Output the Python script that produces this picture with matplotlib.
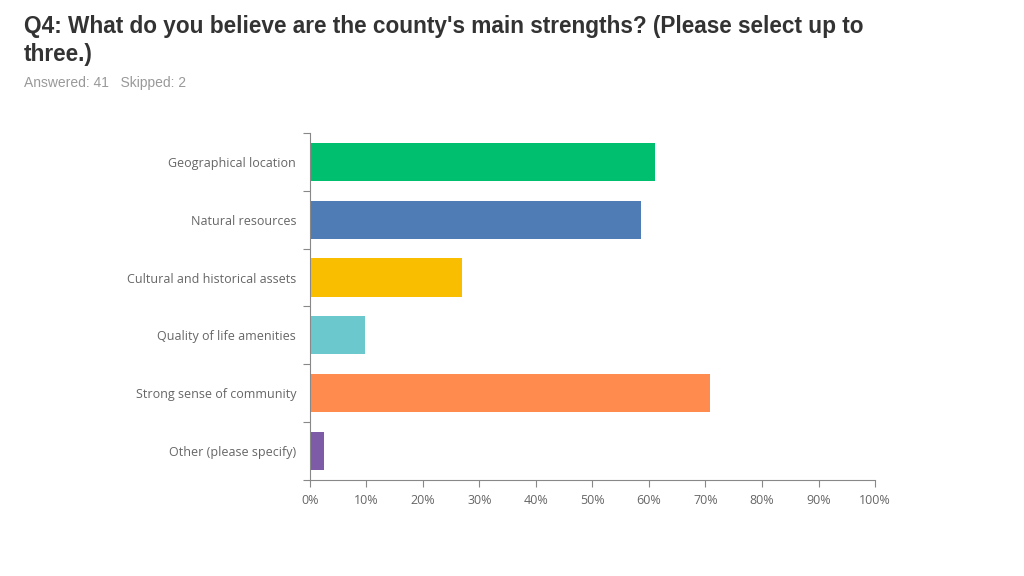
import matplotlib
from matplotlib import pyplot as plt
from matplotlib.ticker import PercentFormatter
import numpy as np
plt.switch_backend('agg')

categories = ['Geographical location', 'Natural resources', 'Cultural and historical assets',
              'Quality of life amenities', 'Strong sense of community', 'Other (please specify)']
values = [60.98, 58.54, 26.83, 9.76, 70.73, 2.44]
colors = ['#00BF6F', '#507CB6', '#F9BE00', '#6BC8CD', '#FF8B4F', '#7D5BA6']
xticks = [0, 10, 20, 30, 40, 50, 60, 70, 80, 90, 100]

fig = plt.figure(figsize=(10.24, 5.76), dpi=100)
ax = fig.add_axes([0.3027, 0.1667, 0.5518, 0.6024])

ypos = np.arange(len(categories))
ax.barh(ypos, values, height=0.66, color=colors)
ax.set_ylim(len(categories) - 0.5, -0.5)
ax.set_xlim(0, 100)

label_font = 'Open Sans'
ax.set_yticks(ypos)
ax.set_yticklabels(categories, fontsize=9, color='#666666', family=label_font)
ax.set_yticks(np.arange(-0.5, len(categories)), minor=True)
ax.tick_params(axis='y', which='major', length=0, pad=10)
ax.tick_params(axis='y', which='minor', length=5, color='#888888', width=0.8)
ax.set_xticks(xticks)
ax.xaxis.set_major_formatter(PercentFormatter(decimals=0))
ax.tick_params(axis='x', length=5, color='#888888', width=0.8, labelsize=9, labelcolor='#666666', pad=5)
for lab in ax.get_xticklabels():
    lab.set_family(label_font)

for side in ['top', 'right']:
    ax.spines[side].set_visible(False)
for side in ['left', 'bottom']:
    ax.spines[side].set_color('#888888')
    ax.spines[side].set_linewidth(0.8)

fig.text(24 / 1024, 1 - 26 / 576, "Q4: What do you believe are the county's main strengths? (Please select up to",
         fontsize=16.3, fontweight='bold', color='#333333', family='Liberation Sans', va='center')
fig.text(24 / 1024, 1 - 54 / 576, "three.)",
         fontsize=16.3, fontweight='bold', color='#333333', family='Liberation Sans', va='center')
fig.text(24 / 1024, 1 - 83 / 576, "Answered: 41   Skipped: 2",
         fontsize=10, color='#999999', family='Liberation Sans', va='center')

plt.savefig('out.png', dpi=100)
